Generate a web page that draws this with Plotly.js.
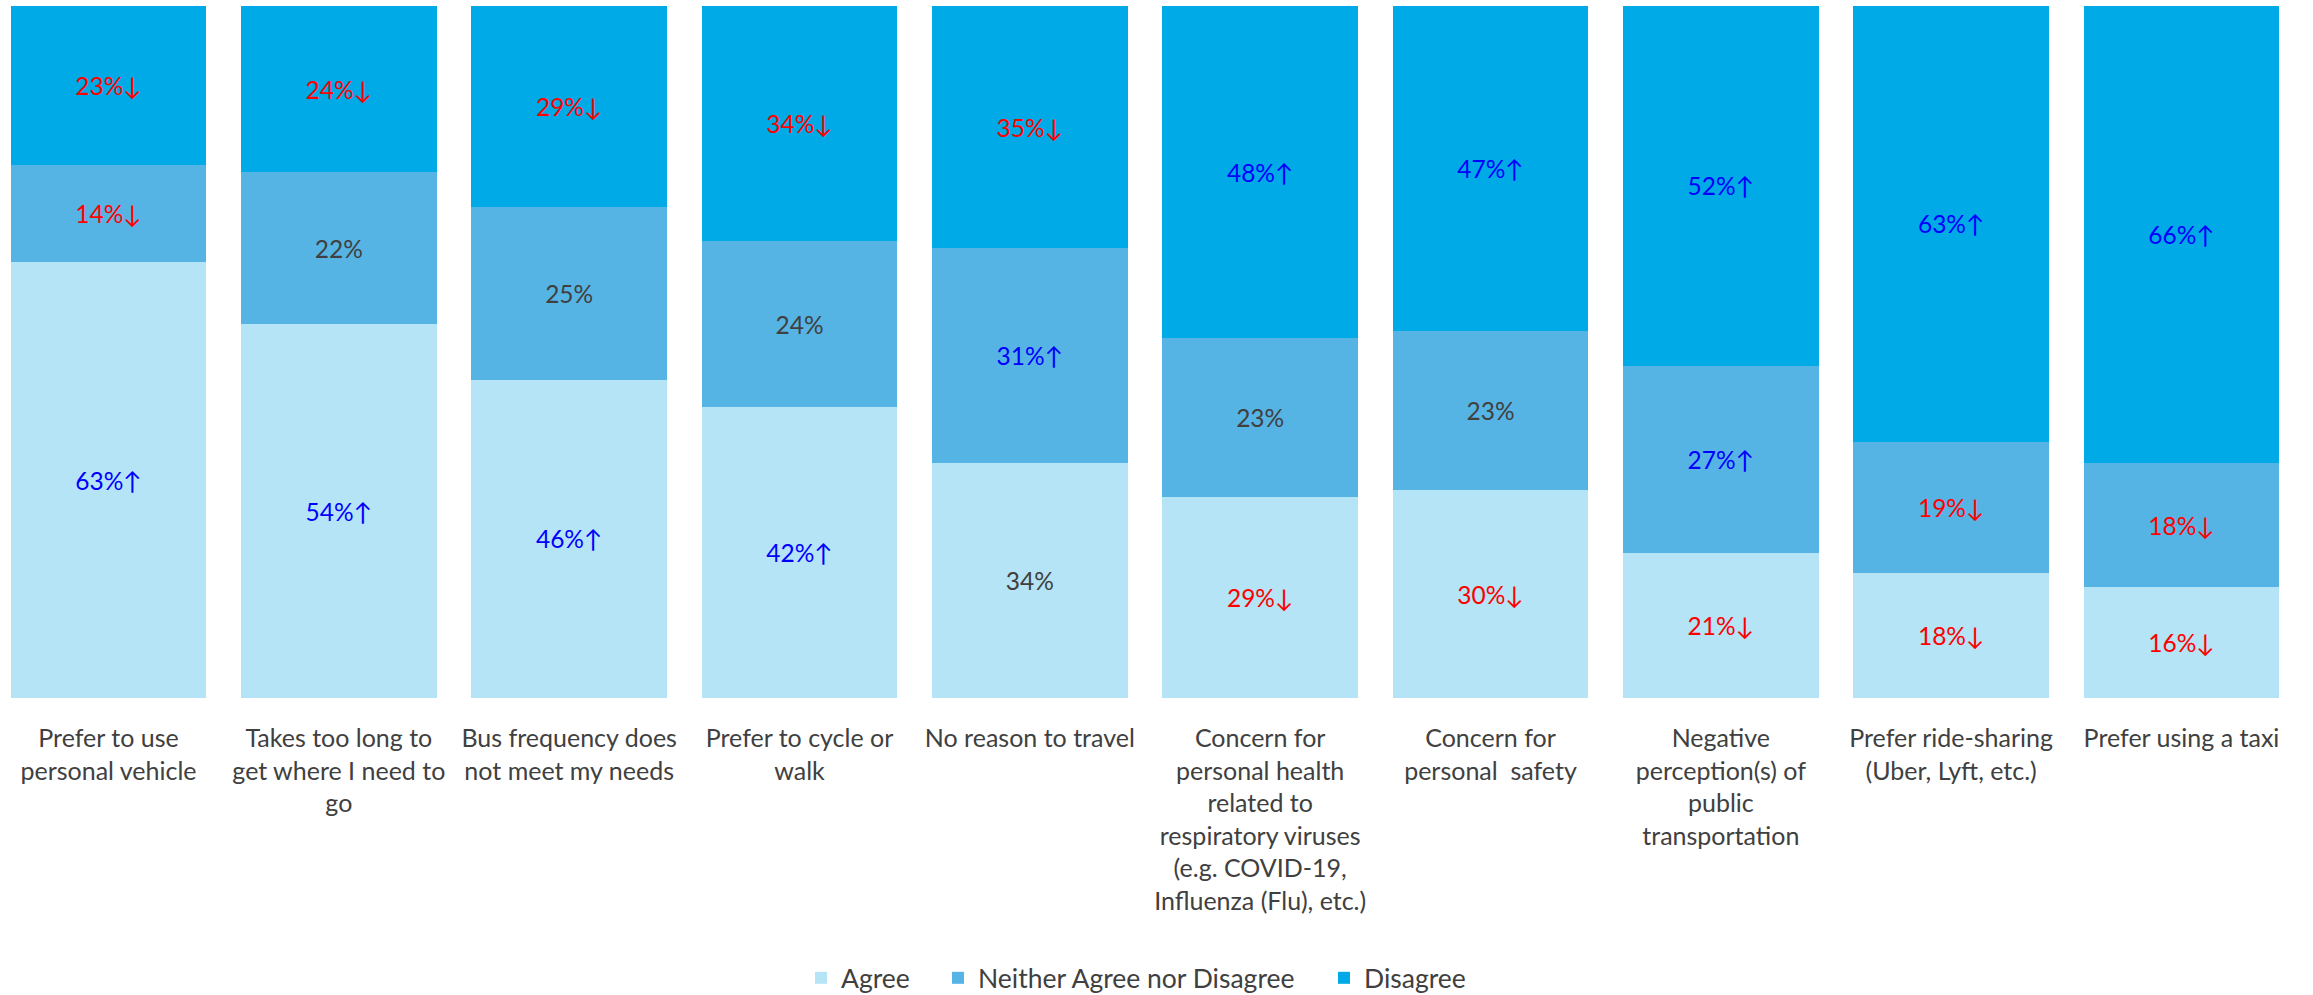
<!DOCTYPE html>
<html>
<head>
<meta charset="utf-8">
<script src="https://cdn.plot.ly/plotly-3.0.1.min.js"></script>
<style>
  html, body { margin: 0; padding: 0; background: #ffffff; }
  #chart { width: 2313px; height: 995px; }
</style>
</head>
<body>
<div id="chart"></div>
<script>
// ---- Data ----
const categories = [
  "Prefer to use<br>personal vehicle",
  "Takes too long to<br>get where I need to<br>go",
  "Bus frequency does<br>not meet my needs",
  "Prefer to cycle or<br>walk",
  "No reason to travel",
  "Concern for<br>personal health<br>related to<br>respiratory viruses<br>(e.g. COVID-19,<br>Influenza (Flu), etc.)",
  "Concern for<br>personal&nbsp; safety",
  "Negative<br>perception(s) of<br>public<br>transportation",
  "Prefer ride-sharing<br>(Uber, Lyft, etc.)",
  "Prefer using a taxi"
];

const agreeValues    = [63, 54, 46, 42, 34, 29, 30, 21, 18, 16];
const neitherValues  = [14, 22, 25, 24, 31, 23, 23, 27, 19, 18];
const disagreeValues = [23, 24, 29, 34, 35, 48, 47, 52, 63, 66];

// change markers: "up", "down" or "" (no significant change)
const agreeTrend    = ["up", "up", "up", "up", "", "down", "down", "down", "down", "down"];
const neitherTrend  = ["down", "", "", "", "up", "", "", "up", "down", "down"];
const disagreeTrend = ["down", "down", "down", "down", "down", "up", "up", "up", "up", "up"];

const seriesNames = ["Agree", "Neither Agree nor Disagree", "Disagree"];

// ---- Styling ----
const seriesColors = ["#B4E4F5", "#56B4E5", "#00AAE6"];
const trendColor = { up: "#0000FF", down: "#FF0000", "": "#404040" };
const trendArrow = { up: "\u2191", down: "\u2193", "": "" };
const FONT = "Lato, 'Noto Sans', sans-serif";
const legendIds = ["legend", "legend2", "legend3"];

function makeTrace(k, values, trend) {
  return {
    type: "bar",
    name: seriesNames[k],
    legend: legendIds[k],
    x: categories.map((c, i) => i),
    y: values,
    text: values.map((v, i) => v + "%" + trendArrow[trend[i]]),
    textposition: "inside",
    insidetextanchor: "middle",
    textangle: 0,
    constraintext: "none",
    textfont: { family: FONT, size: 24.5, color: trend.map(t => trendColor[t]) },
    marker: { color: seriesColors[k], line: { width: 0 } },
    hoverinfo: "skip"
  };
}

const data = [
  makeTrace(0, agreeValues, agreeTrend),
  makeTrace(1, neitherValues, neitherTrend),
  makeTrace(2, disagreeValues, disagreeTrend)
];

function legendAt(xpx) {
  return {
    orientation: "h",
    xref: "container",
    x: xpx / 2313,
    xanchor: "left",
    yref: "container",
    y: 0.017,
    yanchor: "middle",
    font: { family: FONT, size: 26.5, color: "#404040" },
    itemwidth: 30,
    bgcolor: "rgba(0,0,0,0)"
  };
}

const layout = {
  width: 2313,
  height: 995,
  barmode: "stack",
  bargap: 0.151,
  paper_bgcolor: "#ffffff",
  plot_bgcolor: "#ffffff",
  margin: { l: 0, r: 0, t: 6, b: 297, pad: 0 },
  font: { family: FONT, size: 24, color: "#404040" },
  xaxis: {
    type: "linear",
    range: [-0.4711, 9.571],
    tickmode: "array",
    tickvals: categories.map((c, i) => i),
    ticktext: categories,
    tickangle: 0,
    showgrid: false,
    zeroline: false,
    showline: false,
    ticks: "outside",
    ticklen: 18,
    tickcolor: "rgba(0,0,0,0)",
    tickfont: { family: FONT, size: 25, color: "#404040" },
    fixedrange: true
  },
  yaxis: {
    range: [0, 100],
    showgrid: false,
    zeroline: false,
    showline: false,
    showticklabels: false,
    fixedrange: true
  },
  showlegend: true,
  legend: legendAt(801),
  legend2: legendAt(938),
  legend3: legendAt(1324)
};

Plotly.newPlot("chart", data, layout, { displayModeBar: false, staticPlot: true });
</script>
</body>
</html>
